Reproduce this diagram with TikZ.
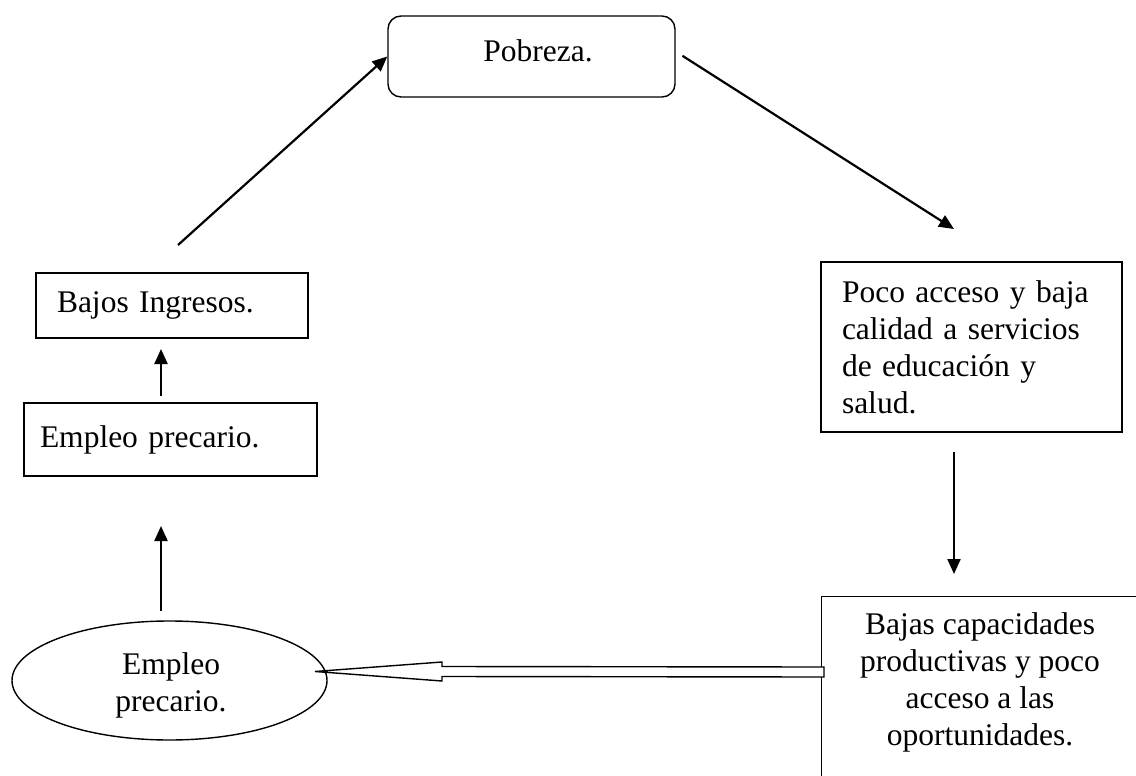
\documentclass[tikz,border=0pt]{standalone}
\usepackage{fontspec}
\setmainfont{Liberation Serif}
\usetikzlibrary{shapes.geometric,arrows.meta,calc}
\begin{document}
\begin{tikzpicture}[x=1pt,y=-1pt,
  txt/.style={font=\fontsize{31.5}{37}\selectfont},
  box/.style={draw, line width=1.4pt, rectangle, inner ysep=0pt, txt},
  conn/.style={line width=2.2pt, -{Triangle[length=15pt,width=13pt]}},
  blockarrow/.style={line width=1.4pt, fill=white, line join=miter}
]
\useasboundingbox (0,0) rectangle (1136,776);

% nodes
\node[box, rounded corners=13pt, minimum width=287pt, minimum height=81pt] (pobreza) at (531.5,56.5) {};
\node[txt, inner sep=0pt] (pobrezatext) at (538,51) {Pobreza.};
\node[box, minimum width=301pt, minimum height=170pt, text width=259pt,
      inner xsep=21pt, align=left] (poco) at (971.5,347)
      {Poco acceso y baja\\calidad a servicios\\de educación y\\salud.};
\node[box, minimum width=324pt, minimum height=200pt, anchor=north west] (bajas) at (821,596) {};
\node[txt, align=center, inner sep=0pt] (bajastext) at (980,682)
      {Bajas capacidades\\productivas y poco\\acceso a las\\oportunidades.};
\node[ellipse, draw, line width=1.4pt, minimum width=315pt, minimum height=119pt,
      inner sep=0pt] (emp2) at (169.5,680.5) {};
\node[txt, align=center, inner sep=0pt] (emp2text) at (171,685) {Empleo\\precario.};
\node[box, minimum width=272pt, minimum height=65pt, text width=230pt,
      inner xsep=21pt, align=left] (bajos) at (172,305.5) {Bajos Ingresos.};
\node[box, minimum width=293pt, minimum height=73pt, text width=261pt,
      inner xsep=16pt, align=left] (empleo) at (170.5,439.5) {Empleo precario.};

% connector end points
\coordinate (a1) at (178,245);
\coordinate (a2) at (954,229);
\coordinate (a3s) at (954,452);
\coordinate (a3e) at (954,574);
\coordinate (btail) at (824,672);
\coordinate (btip) at (315,671.5);
\coordinate (a4s) at (161,611);
\coordinate (a4e) at (161,526);
\coordinate (a5s) at (161,396);
\coordinate (a5e) at (161,349);

% connectors
\draw[conn] (a1) -- (pobreza.west);
\draw[conn, shorten <=8pt] ($(pobreza.east)+(0,-5)$) -- (a2);
\draw[conn] (a3s) -- (a3e);
\draw[blockarrow] ($(btail)+(0,-5)$) -- ($(btip)+(127,-5)$) -- ($(btip)+(127,-9.5)$)
   -- (btip) -- ($(btip)+(127,9.5)$) -- ($(btip)+(127,5)$) -- ($(btail)+(0,5)$) -- cycle;
\draw[conn] (a4s) -- (a4e);
\draw[conn] (a5s) -- (a5e);
\end{tikzpicture}
\end{document}
